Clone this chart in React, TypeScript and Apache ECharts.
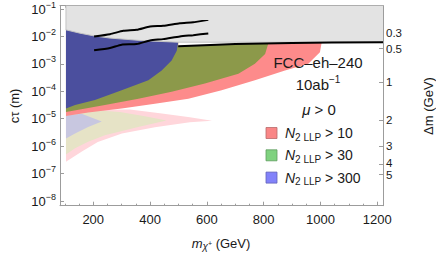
import React, { useEffect, useRef } from "react";
import * as echarts from "echarts";

// ---- axes ----
const xTickLabels = [200, 400, 600, 800, 1000, 1200];
const xMinorTicks = [100, 150, 250, 300, 350, 450, 500, 550, 650, 700, 750, 850, 900, 950, 1050, 1100, 1150];
const yDecades = [-8, -7, -6, -5, -4, -3, -2, -1]; // log10(cτ / m)
const deltaMLabels = ["0.3", "0.5", "1", "2", "3", "4", "5"];
const deltaMTickLogCt = [-1.88, -2.44, -3.66, -5.05, -6.01, -6.67, -7.02];

// ---- regions: [m_chi+ (GeV), log10(cτ / m)] ----
const excludedTop = [
  [104, -0.7], [1230, -0.7], [1230, -2.21], [499, -2.21], [376, -2.155],
  [259, -2.06], [200, -1.975], [153, -1.88], [104, -1.76],
];
const regionN10 = [
  [104, -1.7], [499, -1.9], [499, -2.36], [700, -2.28], [900, -2.24], [1004, -2.23],
  [998, -2.58], [957, -3.0], [875, -3.24], [769, -3.6], [652, -3.96], [535, -4.27],
  [417, -4.45], [300, -4.63], [182, -4.77], [104, -4.9],
];
const regionN30 = [
  [104, -1.7], [499, -1.9], [499, -2.36], [700, -2.28], [816, -2.27],
  [805, -2.64], [769, -3.0], [711, -3.36], [593, -3.72], [476, -4.02],
  [359, -4.27], [241, -4.5], [104, -4.75],
];
const regionN300 = [
  [104, -1.7], [499, -1.9], [499, -2.22], [494, -2.52], [476, -2.88], [441, -3.24],
  [394, -3.6], [300, -3.96], [206, -4.32], [136, -4.5], [104, -4.63],
];
const faintN10 = [
  [104, -4.89], [224, -4.67], [329, -4.66], [435, -4.8], [540, -4.945], [618, -5.07],
  [540, -5.126], [417, -5.307], [301, -5.54], [216, -5.85], [160, -6.19], [104, -6.57],
];
const faintN30 = [
  [104, -4.855], [188, -4.67], [294, -4.75], [382, -4.91], [458, -5.06],
  [358, -5.3], [241, -5.6], [182, -5.84], [136, -6.08], [104, -6.3],
];
const faintN300 = [
  [104, -4.88], [159, -4.82], [230, -5.1], [182, -5.3], [136, -5.54], [104, -5.72],
];
const boundUpper = [
  [203, -2.0], [259, -1.917], [306, -1.794], [353, -1.758], [400, -1.639],
  [446, -1.613], [505, -1.519], [552, -1.483], [605, -1.396],
];
const boundLower = [
  [203, -2.506], [259, -2.423], [300, -2.3], [353, -2.278], [400, -2.145],
  [446, -2.098], [505, -2.0], [552, -1.953], [605, -1.892],
];
const boundFlat = [[499, -2.36], [700, -2.28], [900, -2.24], [1220, -2.21]];

const FONT = "'Liberation Sans', Arial, sans-serif";
const AXIS_COLOR = "#9c9c9c";
const TEXT_COLOR = "#1a1a1a";

function polygonSeries(name: string, pts: number[][], fill: string, z: number, stroke?: string) {
  return {
    type: "custom",
    name,
    data: pts,
    z,
    silent: true,
    clip: true,
    encode: { x: 0, y: 1 },
    renderItem: (params: any, api: any) => {
      if (params.dataIndex !== 0) return null;
      const points = pts.map((p) => api.coord(p));
      return {
        type: "polygon",
        shape: { points },
        style: { fill, stroke: stroke || "none", lineWidth: stroke ? 1 : 0 },
      };
    },
  };
}

function lineSeries(name: string, pts: number[][], smooth: number) {
  return {
    type: "line",
    name,
    data: pts,
    z: 20,
    symbol: "none",
    silent: true,
    smooth,
    lineStyle: { color: "#000", width: 2 },
  };
}

export default function App() {
  const ref = useRef<HTMLDivElement>(null);
  useEffect(() => {
    document.body.style.margin = "0";
    const chart = echarts.init(ref.current!, null, { renderer: "svg" });
    const xMin = 83, xMax = 1220, yMin = -8.17, yMax = -0.88;
    const xCommon = {
      type: "value", min: xMin, max: xMax, splitLine: { show: false },
    };
    const legendRows = [
      { label: " > 10", fill: "#f98686", stroke: "#b86a6a" },
      { label: " > 30", fill: "#7fd27f", stroke: "#5f9d5f" },
      { label: " > 300", fill: "#8282fa", stroke: "#6262b8" },
    ];
    const graphic: any[] = [];
    legendRows.forEach((r, i) => {
      const cy = 133 + i * 22.3;
      graphic.push({
        type: "rect", shape: { x: 266, y: cy - 5.5, width: 11, height: 11 },
        style: { fill: r.fill, stroke: r.stroke, lineWidth: 0.8 }, z: 100,
      });
      graphic.push({
        type: "text", x: 285, y: cy, z: 100,
        style: {
          text: `{n|N}{s|2 LLP}{t|${r.label}}`,
          verticalAlign: "middle", align: "left",
          rich: {
            n: { fontFamily: FONT, fontSize: 14, fontStyle: "italic", lineHeight: 18, fill: TEXT_COLOR },
            s: { fontFamily: FONT, fontSize: 10, lineHeight: 10, verticalAlign: "bottom", fill: TEXT_COLOR },
            t: { fontFamily: FONT, fontSize: 14, lineHeight: 18, fill: TEXT_COLOR },
          },
        },
      });
    });
    graphic.push(
      {
        type: "text", x: 318, y: 62, z: 100,
        style: { text: "FCC–eh–240", fontFamily: FONT, fontSize: 15, fill: TEXT_COLOR, align: "center", verticalAlign: "middle" },
      },
      {
        type: "text", x: 318, y: 84, z: 100,
        style: {
          text: "{a|10ab}{s|−1}", align: "center", verticalAlign: "middle",
          rich: {
            a: { fontFamily: FONT, fontSize: 15, lineHeight: 20, fill: TEXT_COLOR },
            s: { fontFamily: FONT, fontSize: 10, lineHeight: 10, verticalAlign: "top", fill: TEXT_COLOR },
          },
        },
      },
      {
        type: "text", x: 319, y: 109, z: 100,
        style: {
          text: "{i|μ}{t| > 0}", align: "center", verticalAlign: "middle",
          rich: {
            i: { fontFamily: FONT, fontSize: 15, fontStyle: "italic", fill: TEXT_COLOR },
            t: { fontFamily: FONT, fontSize: 15, fill: TEXT_COLOR },
          },
        },
      },
      {
        type: "text", x: 14, y: 106, rotation: Math.PI / 2,
        style: { text: "cτ (m)", fontFamily: FONT, fontSize: 13, fill: TEXT_COLOR, align: "center", verticalAlign: "middle" },
      },
      {
        type: "text", x: 428, y: 106, rotation: Math.PI / 2,
        style: { text: "Δm (GeV)", fontFamily: FONT, fontSize: 13, fill: TEXT_COLOR, align: "center", verticalAlign: "middle" },
      },
      {
        type: "text", x: 221, y: 243,
        style: {
          text: "{m|m}{c|χ}{p|+}{t| (GeV)}", align: "center", verticalAlign: "middle",
          rich: {
            m: { fontFamily: FONT, fontSize: 13, fontStyle: "italic", lineHeight: 16, fill: TEXT_COLOR },
            c: { fontFamily: FONT, fontSize: 10, fontStyle: "italic", lineHeight: 10, verticalAlign: "bottom", fill: TEXT_COLOR },
            p: { fontFamily: FONT, fontSize: 7, lineHeight: 7, verticalAlign: "middle", fill: TEXT_COLOR },
            t: { fontFamily: FONT, fontSize: 13, lineHeight: 16, fill: TEXT_COLOR },
          },
        },
      },
    );

    chart.setOption({
      animation: false,
      grid: { left: 60, top: 4, width: 323, height: 201.7, containLabel: false },
      xAxis: [
        {
          ...xCommon, position: "bottom",
          axisLine: { lineStyle: { color: AXIS_COLOR } },
          axisTick: { inside: true, length: 4, customValues: xTickLabels, lineStyle: { color: AXIS_COLOR } },
          axisLabel: {
            customValues: xTickLabels, margin: 7, fontFamily: FONT, fontSize: 13, color: TEXT_COLOR,
            interval: 0, hideOverlap: false, showMinLabel: true, showMaxLabel: true,
            formatter: (v: number) => String(Math.round(v)),
          },
        },
        {
          ...xCommon, position: "bottom", offset: 0,
          axisLine: { show: false },
          axisTick: { inside: true, length: 2, customValues: xMinorTicks, lineStyle: { color: AXIS_COLOR } },
          axisLabel: { show: false },
        },
        {
          ...xCommon, position: "top", offset: 0,
          axisLine: { lineStyle: { color: AXIS_COLOR } },
          axisTick: { inside: true, length: 4, customValues: xTickLabels, lineStyle: { color: AXIS_COLOR } },
          axisLabel: { show: false },
        },
        {
          ...xCommon, position: "top", offset: 0,
          axisLine: { show: false },
          axisTick: { inside: true, length: 2, customValues: xMinorTicks, lineStyle: { color: AXIS_COLOR } },
          axisLabel: { show: false },
        },
      ],
      yAxis: [
        {
          type: "value", min: yMin, max: yMax, position: "left", splitLine: { show: false },
          axisLine: { show: true, lineStyle: { color: AXIS_COLOR } },
          axisTick: { show: true, inside: true, length: 4, customValues: yDecades, lineStyle: { color: AXIS_COLOR } },
          axisLabel: {
            customValues: yDecades, margin: 4, interval: 0, hideOverlap: false,
            showMinLabel: true, showMaxLabel: true,
            formatter: (v: number) => `{b|10}{s|−${Math.abs(Math.round(v))}}`,
            rich: {
              b: { fontFamily: FONT, fontSize: 13, lineHeight: 18, color: TEXT_COLOR },
              s: { fontFamily: FONT, fontSize: 9, lineHeight: 9, verticalAlign: "top", color: TEXT_COLOR },
            },
          },
        },
        {
          type: "value", min: yMin, max: yMax, position: "right", splitLine: { show: false },
          axisLine: { show: true, lineStyle: { color: AXIS_COLOR } },
          axisTick: { show: true, inside: true, length: 4, customValues: deltaMTickLogCt, lineStyle: { color: AXIS_COLOR } },
          axisLabel: { show: false },
        },
      ],
      series: [
        polygonSeries("faint N>10", faintN10, "#ffd6db", 1),
        polygonSeries("faint N>30", faintN30, "#e6e3c6", 2),
        polygonSeries("faint N>300", faintN300, "#c8c7e0", 3),
        polygonSeries("N2LLP > 10", regionN10, "#fd8b8b", 4),
        polygonSeries("N2LLP > 30", regionN30, "#8c994a", 5),
        polygonSeries("N2LLP > 300", regionN300, "#4b4f9e", 6),
        polygonSeries("excluded", excludedTop, "#e3e3e3", 7, "#c4c4c4"),
        lineSeries("bound upper", boundUpper, 0.2),
        lineSeries("bound lower", boundLower, 0.2),
        lineSeries("bound flat", boundFlat, 0.3),
      ],
      graphic,
    });

    // right-axis (Δm) tick labels, placed through the right y axis' own scale;
    // the closely spaced "4" and "5" are nudged apart slightly so they don't collide
    const rightAxisX = 60 + 323;
    const nudge = (i: number) => (i === deltaMLabels.length - 2 ? -1.5 : i === deltaMLabels.length - 1 ? 0.8 : 0);
    const rightLabels = deltaMTickLogCt.map((v, i) => ({
      type: "text",
      x: rightAxisX + 3,
      y: (chart.convertToPixel({ yAxisIndex: 1 }, v) as number) + nudge(i),
      z: 100,
      style: {
        text: deltaMLabels[i], fontFamily: FONT, fontSize: 11.5, lineHeight: 9, fill: TEXT_COLOR,
        align: "left", verticalAlign: "middle",
      },
    }));
    chart.setOption({ graphic: [...graphic, ...rightLabels] });

    return () => chart.dispose();
  }, []);
  return <div ref={ref} style={{ width: 436, height: 255 }} />;
}
